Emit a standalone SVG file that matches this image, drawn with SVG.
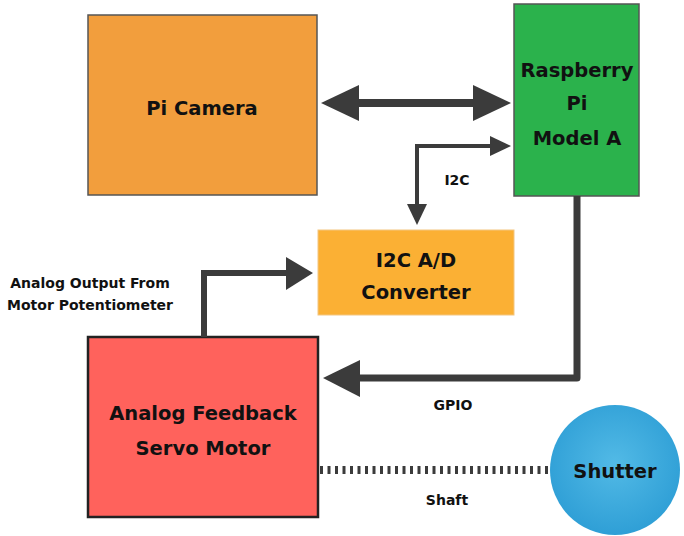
<svg xmlns="http://www.w3.org/2000/svg" width="684" height="536" viewBox="0 0 684 536">
<defs>
<radialGradient id="blue" cx="0.5" cy="0.45" r="0.55">
<stop offset="0" stop-color="#52BAE6"/>
<stop offset="1" stop-color="#2F9FD6"/>
</radialGradient>
<style>
text{font-family:"DejaVu Sans","Liberation Sans",sans-serif;font-weight:bold;fill:#111;text-anchor:middle}
.big{font-size:19.5px}
.small{font-size:14px}
.box{stroke:#555;stroke-width:1.5}
.ln{fill:none;stroke:#3b3b3b}
.hd{fill:#3b3b3b}
</style>
</defs>
<rect width="684" height="536" fill="#fff"/>
<g id="camera">
<rect class="box" x="88" y="15" width="229" height="180" fill="#F29E3D"/>
<text class="big" x="202" y="115">Pi Camera</text>
</g>
<g id="raspberry">
<rect class="box" x="514" y="4" width="125" height="192" fill="#2BB24C"/>
<text class="big" x="577" y="77">Raspberry</text>
<text class="big" x="577" y="110">Pi</text>
<text class="big" x="577" y="145">Model A</text>
</g>
<g id="converter">
<rect x="318" y="230" width="196" height="85" fill="#FBB034" stroke="#f3c680" stroke-width="1"/>
<text class="big" x="416" y="267">I2C A/D</text>
<text class="big" x="416" y="299">Converter</text>
</g>
<g id="servo">
<rect x="88" y="337" width="230" height="180" fill="#FF625C" stroke="#222" stroke-width="2.5"/>
<text class="big" x="203" y="420">Analog Feedback</text>
<text class="big" x="203" y="455">Servo Motor</text>
</g>
<g id="shutter">
<circle cx="615" cy="470" r="65" fill="url(#blue)"/>
<text class="big" x="615" y="478">Shutter</text>
</g>
<g id="connectors">
<line class="ln" x1="355" y1="103" x2="477" y2="103" stroke-width="8"/>
<polygon class="hd" points="321,103 359,85 359,121"/>
<polygon class="hd" points="511,103 473,85 473,121"/>
<path class="ln" d="M417,206 V146 H492" stroke-width="4"/>
<polygon class="hd" points="511,146 490,136 490,156"/>
<polygon class="hd" points="417,225 407,204 427,204"/>
<path class="ln" d="M577,196 V378 H358" stroke-width="7" stroke-linejoin="round"/>
<polygon class="hd" points="323,378 360,360 360,397"/>
<path class="ln" d="M204,337 V273 H288" stroke-width="6"/>
<polygon class="hd" points="313,273 286,257 286,290"/>
<line class="ln" x1="320" y1="470" x2="550" y2="470" stroke-width="8" stroke-dasharray="3 4.5"/>
</g>
<g id="labels">
<text class="small" x="457" y="185">I2C</text>
<text class="small" x="453" y="410">GPIO</text>
<text class="small" x="447" y="505">Shaft</text>
<text class="small" x="90" y="288">Analog Output From</text>
<text class="small" x="90" y="310">Motor Potentiometer</text>
</g>
</svg>
